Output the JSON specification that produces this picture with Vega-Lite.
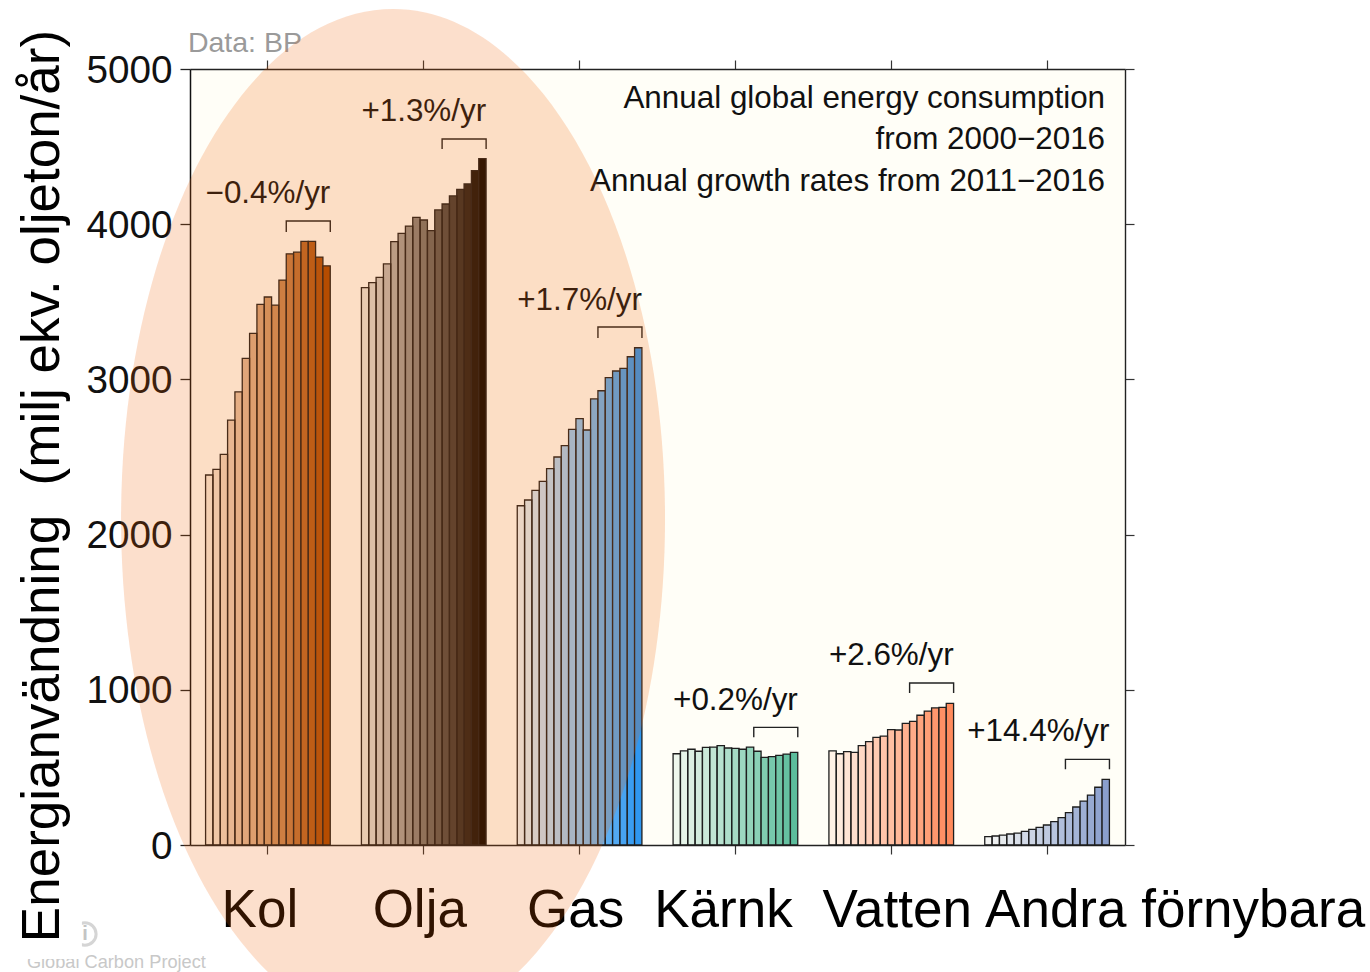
{
"$schema":"https://vega.github.io/schema/vega-lite/v6.json",
"autosize":"none","width":935,"height":776,
"padding":{"left":190,"top":69,"right":245,"bottom":127},
"background":"white",
"view":{"fill":"#fffef7","stroke":null},
"config":{"font":"Liberation Sans","text":{"font":"Liberation Sans"}},
"datasets":{
"bars":[
{"source":"Kol","year":2000,"energy":2384},{"source":"Kol","year":2001,"energy":2420},{"source":"Kol","year":2002,"energy":2517},{"source":"Kol","year":2003,"energy":2738},{"source":"Kol","year":2004,"energy":2920},{"source":"Kol","year":2005,"energy":3135},{"source":"Kol","year":2006,"energy":3296},{"source":"Kol","year":2007,"energy":3483},{"source":"Kol","year":2008,"energy":3531},{"source":"Kol","year":2009,"energy":3479},{"source":"Kol","year":2010,"energy":3640},{"source":"Kol","year":2011,"energy":3809},{"source":"Kol","year":2012,"energy":3820},{"source":"Kol","year":2013,"energy":3889},{"source":"Kol","year":2014,"energy":3889},{"source":"Kol","year":2015,"energy":3788},{"source":"Kol","year":2016,"energy":3732},
{"source":"Olja","year":2000,"energy":3591},{"source":"Olja","year":2001,"energy":3623},{"source":"Olja","year":2002,"energy":3658},{"source":"Olja","year":2003,"energy":3744},{"source":"Olja","year":2004,"energy":3888},{"source":"Olja","year":2005,"energy":3941},{"source":"Olja","year":2006,"energy":3988},{"source":"Olja","year":2007,"energy":4044},{"source":"Olja","year":2008,"energy":4027},{"source":"Olja","year":2009,"energy":3958},{"source":"Olja","year":2010,"energy":4092},{"source":"Olja","year":2011,"energy":4130},{"source":"Olja","year":2012,"energy":4182},{"source":"Olja","year":2013,"energy":4225},{"source":"Olja","year":2014,"energy":4259},{"source":"Olja","year":2015,"energy":4345},{"source":"Olja","year":2016,"energy":4422},
{"source":"Gas","year":2000,"energy":2186},{"source":"Gas","year":2001,"energy":2223},{"source":"Gas","year":2002,"energy":2285},{"source":"Gas","year":2003,"energy":2343},{"source":"Gas","year":2004,"energy":2425},{"source":"Gas","year":2005,"energy":2500},{"source":"Gas","year":2006,"energy":2573},{"source":"Gas","year":2007,"energy":2678},{"source":"Gas","year":2008,"energy":2747},{"source":"Gas","year":2009,"energy":2674},{"source":"Gas","year":2010,"energy":2874},{"source":"Gas","year":2011,"energy":2927},{"source":"Gas","year":2012,"energy":3011},{"source":"Gas","year":2013,"energy":3054},{"source":"Gas","year":2014,"energy":3071},{"source":"Gas","year":2015,"energy":3146},{"source":"Gas","year":2016,"energy":3204},
{"source":"Kärnk","year":2000,"energy":588},{"source":"Kärnk","year":2001,"energy":606},{"source":"Kärnk","year":2002,"energy":617},{"source":"Kärnk","year":2003,"energy":604},{"source":"Kärnk","year":2004,"energy":629},{"source":"Kärnk","year":2005,"energy":631},{"source":"Kärnk","year":2006,"energy":640},{"source":"Kärnk","year":2007,"energy":625},{"source":"Kärnk","year":2008,"energy":623},{"source":"Kärnk","year":2009,"energy":617},{"source":"Kärnk","year":2010,"energy":631},{"source":"Kärnk","year":2011,"energy":604},{"source":"Kärnk","year":2012,"energy":565},{"source":"Kärnk","year":2013,"energy":569},{"source":"Kärnk","year":2014,"energy":578},{"source":"Kärnk","year":2015,"energy":586},{"source":"Kärnk","year":2016,"energy":597},
{"source":"Vatten","year":2000,"energy":606},{"source":"Vatten","year":2001,"energy":588},{"source":"Vatten","year":2002,"energy":601},{"source":"Vatten","year":2003,"energy":597},{"source":"Vatten","year":2004,"energy":640},{"source":"Vatten","year":2005,"energy":666},{"source":"Vatten","year":2006,"energy":694},{"source":"Vatten","year":2007,"energy":702},{"source":"Vatten","year":2008,"energy":743},{"source":"Vatten","year":2009,"energy":741},{"source":"Vatten","year":2010,"energy":784},{"source":"Vatten","year":2011,"energy":797},{"source":"Vatten","year":2012,"energy":836},{"source":"Vatten","year":2013,"energy":863},{"source":"Vatten","year":2014,"energy":883},{"source":"Vatten","year":2015,"energy":887},{"source":"Vatten","year":2016,"energy":913},
{"source":"Andra förnybara","year":2000,"energy":54},{"source":"Andra förnybara","year":2001,"energy":58},{"source":"Andra förnybara","year":2002,"energy":64},{"source":"Andra förnybara","year":2003,"energy":71},{"source":"Andra förnybara","year":2004,"energy":77},{"source":"Andra förnybara","year":2005,"energy":88},{"source":"Andra förnybara","year":2006,"energy":101},{"source":"Andra förnybara","year":2007,"energy":114},{"source":"Andra förnybara","year":2008,"energy":129},{"source":"Andra förnybara","year":2009,"energy":150},{"source":"Andra förnybara","year":2010,"energy":176},{"source":"Andra förnybara","year":2011,"energy":208},{"source":"Andra förnybara","year":2012,"energy":245},{"source":"Andra förnybara","year":2013,"energy":283},{"source":"Andra förnybara","year":2014,"energy":322},{"source":"Andra förnybara","year":2015,"energy":372},{"source":"Andra förnybara","year":2016,"energy":423}
],
"brackets":[
{"source":"Kol","edge":2011,"level":3950,"step":1},{"source":"Kol","edge":2011,"level":4021,"step":2},{"source":"Kol","edge":2017,"level":4021,"step":3},{"source":"Kol","edge":2017,"level":3950,"step":4},
{"source":"Olja","edge":2011,"level":4485,"step":1},{"source":"Olja","edge":2011,"level":4549,"step":2},{"source":"Olja","edge":2017,"level":4549,"step":3},{"source":"Olja","edge":2017,"level":4485,"step":4},
{"source":"Gas","edge":2011,"level":3267,"step":1},{"source":"Gas","edge":2011,"level":3338,"step":2},{"source":"Gas","edge":2017,"level":3338,"step":3},{"source":"Gas","edge":2017,"level":3267,"step":4},
{"source":"Kärnk","edge":2011,"level":694,"step":1},{"source":"Kärnk","edge":2011,"level":758,"step":2},{"source":"Kärnk","edge":2017,"level":758,"step":3},{"source":"Kärnk","edge":2017,"level":694,"step":4},
{"source":"Vatten","edge":2011,"level":979,"step":1},{"source":"Vatten","edge":2011,"level":1044,"step":2},{"source":"Vatten","edge":2017,"level":1044,"step":3},{"source":"Vatten","edge":2017,"level":979,"step":4},
{"source":"Andra förnybara","edge":2011,"level":488,"step":1},{"source":"Andra förnybara","edge":2011,"level":552,"step":2},{"source":"Andra förnybara","edge":2017,"level":552,"step":3},{"source":"Andra förnybara","edge":2017,"level":488,"step":4}
],
"rates":[
{"source":"Kol","rate":"−0.4%/yr","level":4207},{"source":"Olja","rate":"+1.3%/yr","level":4736},{"source":"Gas","rate":"+1.7%/yr","level":3518},{"source":"Kärnk","rate":"+0.2%/yr","level":941},{"source":"Vatten","rate":"+2.6%/yr","level":1231},{"source":"Andra förnybara","rate":"+14.4%/yr","level":741}
],
"notes":[
{"line":"Annual global energy consumption","level":4807},{"line":"from 2000−2016","level":4543},{"line":"Annual growth rates from 2011−2016","level":4278}
]
},
"resolve":{"axis":{"x":"independent","y":"independent"},"scale":{"xOffset":"independent"}},
"layer":[
{"data":{"name":"bars"},
"mark":{"type":"bar","stroke":"#1e1e1e","strokeWidth":1.3},
"encoding":{
"x":{"field":"source","type":"nominal","sort":null,"scale":{"domain":["Kol","Olja","Gas","Kärnk","Vatten","Andra förnybara"],"paddingInner":0.2,"paddingOuter":0.1},
"axis":{"orient":"bottom","labels":false,"title":null,"tickSize":9,"tickColor":"#333","domainColor":"#222","domainWidth":1.4,"tickWidth":1.2,"grid":false}},
"xOffset":{"field":"year","type":"ordinal","scale":{"paddingInner":0,"paddingOuter":0}},
"y":{"field":"energy","type":"quantitative","scale":{"domain":[0,5000],"nice":false},
"axis":{"orient":"left","title":null,"values":[0,1000,2000,3000,4000,5000],"format":"d","labelFontSize":38.7,"labelColor":"#111","labelPadding":8,"labelOffset":1,"labelFont":"Liberation Sans","tickSize":10,"tickColor":"#222","tickWidth":1.3,"domainColor":"#111","domainWidth":1.5,"grid":false}},
"color":{"field":"source","type":"nominal","legend":null,"scale":{"domain":["Kol","Olja","Gas","Kärnk","Vatten","Andra förnybara"],"range":["#a84800","#0a0500","#2f97f0","#5cbd9c","#ff8a5c","#8a9fcd"]}},
"fillOpacity":{"field":"year","type":"quantitative","legend":null,"scale":{"domain":[2000,2016],"range":[0.1,1]}}
}},
{"data":{"name":"brackets"},
"mark":{"type":"line","stroke":"#222","strokeWidth":1.4},
"encoding":{
"x":{"field":"source","type":"nominal","axis":{"orient":"top","labels":false,"title":null,"tickSize":9,"tickColor":"#333","domainColor":"#222","domainWidth":1.4,"tickWidth":1.2,"grid":false}},
"xOffset":{"field":"edge","type":"quantitative","scale":{"domain":[2000,2017],"range":[0,124.7]}},
"y":{"field":"level","type":"quantitative","axis":{"orient":"right","labels":false,"title":null,"values":[0,1000,2000,3000,4000,5000],"tickSize":9,"tickColor":"#333","tickWidth":1.2,"domainColor":"#222","domainWidth":1.4,"grid":false}},
"detail":{"field":"source"},
"order":{"field":"step"}
}},
{"data":{"name":"rates"},
"mark":{"type":"text","align":"right","baseline":"middle","dx":62.4,"dy":2,"fontSize":31.4,"color":"#111"},
"encoding":{
"x":{"field":"source","type":"nominal","axis":null},
"y":{"field":"level","type":"quantitative","axis":null},
"text":{"field":"rate"}
}},
{"data":{"name":"notes"},
"mark":{"type":"text","align":"right","baseline":"middle","dx":58,"dy":0.5,"fontSize":31.4,"color":"#111"},
"encoding":{
"x":{"datum":"Andra förnybara","type":"nominal","axis":null},
"y":{"field":"level","type":"quantitative","axis":null},
"text":{"field":"line"}
}},
{"data":{"values":[{"label":"Kol"}]},"mark":{"type":"text","align":"center","baseline":"middle","dx":-8,"dy":66,"fontSize":53,"color":"#000"},"encoding":{"x":{"datum":"Kol","type":"nominal","axis":null},"y":{"datum":0,"type":"quantitative","axis":null},"text":{"field":"label"}}},
{"data":{"values":[{"label":"Olja"}]},"mark":{"type":"text","align":"center","baseline":"middle","dx":-4,"dy":66,"fontSize":53,"color":"#000"},"encoding":{"x":{"datum":"Olja","type":"nominal","axis":null},"y":{"datum":0,"type":"quantitative","axis":null},"text":{"field":"label"}}},
{"data":{"values":[{"label":"Gas"}]},"mark":{"type":"text","align":"center","baseline":"middle","dx":-4,"dy":66,"fontSize":53,"color":"#000"},"encoding":{"x":{"datum":"Gas","type":"nominal","axis":null},"y":{"datum":0,"type":"quantitative","axis":null},"text":{"field":"label"}}},
{"data":{"values":[{"label":"Kärnk"}]},"mark":{"type":"text","align":"center","baseline":"middle","dx":-12,"dy":66,"fontSize":53,"color":"#000"},"encoding":{"x":{"datum":"Kärnk","type":"nominal","axis":null},"y":{"datum":0,"type":"quantitative","axis":null},"text":{"field":"label"}}},
{"data":{"values":[{"label":"Vatten"}]},"mark":{"type":"text","align":"center","baseline":"middle","dx":6,"dy":66,"fontSize":53,"color":"#000"},"encoding":{"x":{"datum":"Vatten","type":"nominal","axis":null},"y":{"datum":0,"type":"quantitative","axis":null},"text":{"field":"label"}}},
{"data":{"values":[{"label":"Andra förnybara"}]},"mark":{"type":"text","align":"center","baseline":"middle","dx":128,"dy":66,"fontSize":53,"color":"#000"},"encoding":{"x":{"datum":"Andra förnybara","type":"nominal","axis":null},"y":{"datum":0,"type":"quantitative","axis":null},"text":{"field":"label"}}},
{"data":{"values":[{"label":"Data: BP"}]},"mark":{"type":"text","align":"left","baseline":"middle","dx":-80,"dy":-26,"fontSize":28.5,"color":"#9a9a9a"},"encoding":{"x":{"datum":"Kol","type":"nominal","axis":null},"y":{"datum":5000,"type":"quantitative","axis":null},"text":{"field":"label"}}},
{"data":{"values":[{"label":"Global Carbon Project"}]},"mark":{"type":"text","align":"left","baseline":"middle","dx":-241,"dy":118,"fontSize":18.2,"color":"#c8c8c8"},"encoding":{"x":{"datum":"Kol","type":"nominal","axis":null},"y":{"datum":0,"type":"quantitative","axis":null},"text":{"field":"label"}}},
{"data":{"values":[{"label":"logo"}]},"mark":{"type":"point","shape":"circle","filled":false,"stroke":"#c4c4c4","strokeWidth":3,"size":500,"xOffset":-183,"yOffset":89},"encoding":{"x":{"datum":"Kol","type":"nominal","axis":null},"y":{"datum":0,"type":"quantitative","axis":null}}},
{"data":{"values":[{"label":"i"}]},"mark":{"type":"text","align":"center","baseline":"middle","dx":-183,"dy":89,"fontSize":20,"fontWeight":"bold","color":"#c4c4c4"},"encoding":{"x":{"datum":"Kol","type":"nominal","axis":null},"y":{"datum":0,"type":"quantitative","axis":null},"text":{"field":"label"}}},
{"data":{"values":[{"label":"mask"}]},"mark":{"type":"point","filled":true,"fill":"#ffffff","opacity":1,"stroke":null,"shape":"M -1 -0.85 H 1 V 0.85 H -1 Z","size":4624,"xOffset":-220,"yOffset":85},"encoding":{"x":{"datum":"Kol","type":"nominal","axis":null},"y":{"datum":0,"type":"quantitative","axis":null}}},
{"data":{"values":[{"label":"Energianvändning\u00a0\u00a0(milj ekv. oljeton/år)"}]},"mark":{"type":"text","angle":270,"align":"center","baseline":"middle","dy":-225,"fontSize":53,"color":"#000"},"encoding":{"x":{"datum":"Kol","type":"nominal","axis":null},"y":{"datum":2313,"type":"quantitative","axis":null},"text":{"field":"label"}}},
{"data":{"values":[{"label":"ellipse"}]},"mark":{"type":"point","filled":true,"fill":"#f06000","opacity":0.2,"stroke":null,"shape":"M 0 -1 A 0.5333 1 0 1 1 0 1 A 0.5333 1 0 1 1 0 -1 Z","size":1040400,"xOffset":-30.7},"encoding":{"x":{"datum":"Olja","type":"nominal","axis":null},"y":{"datum":2100,"type":"quantitative","axis":null}}}
]
}
